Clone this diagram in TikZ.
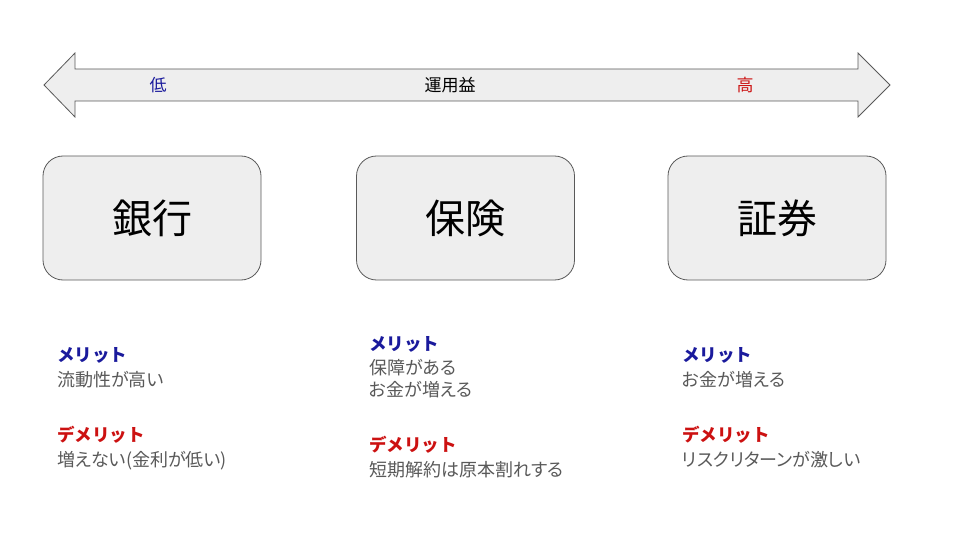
\documentclass[tikz,border=0pt]{standalone}
\usepackage{fontspec}
\setmainfont{Noto Sans CJK JP}
\newfontfamily\jpp{Noto Sans CJK JP}[RawFeature=+palt]
\definecolor{boxfill}{HTML}{EEEEEE}
\definecolor{boxline}{HTML}{595959}
\definecolor{mblue}{HTML}{1A1A9C}
\definecolor{mred}{HTML}{CC1111}
\definecolor{bodyg}{HTML}{595959}
\begin{document}
\begin{tikzpicture}[x=1pt,y=-1pt,
  catbox/.style={draw=boxline,fill=boxfill,rounded corners=20pt,line width=0.8pt,minimum width=218pt,minimum height=124pt,font=\fontsize{40}{42}\selectfont,inner sep=0pt},
  headm/.style={anchor=west,inner sep=0pt,text=mblue,font=\fontsize{17.5}{20}\selectfont\bfseries},
  headd/.style={anchor=west,inner sep=0pt,text=mred,font=\fontsize{17.5}{20}\selectfont\bfseries},
  bodyt/.style={anchor=west,inner sep=0pt,text=bodyg,font=\jpp\fontsize{18}{22}\selectfont,align=left},
  arrlab/.style={inner sep=0pt,font=\fontsize{17}{18}\selectfont}]
\useasboundingbox (0,0) rectangle (960,540);
% double arrow
\draw[draw=boxline,fill=boxfill,line width=0.8pt,line join=miter]
  (44,85) -- (75,53) -- (75,69) -- (858,69) -- (858,53) -- (890,85)
  -- (858,117) -- (858,101) -- (75,101) -- (75,117) -- cycle;
\node[arrlab,text=mblue] (low) at (158,85) {低};
\node[arrlab,text=black] (gain) at (450,85) {運用益};
\node[arrlab,text=mred] (high) at (745,85) {高};
% boxes
\node[catbox] (bank) at (152,218) {銀行};
\node[catbox] (ins) at (465.5,218) {保険};
\node[catbox] (sec) at (777,218) {証券};
% left
\node[headm] (m1) at (57,355) {メリット};
\node[bodyt] (b1) at (57,380) {流動性が高い};
\node[headd] (d1) at (57,435) {デメリット};
\node[bodyt] (e1) at (57,461) {増えない(金利が低い)};
% middle
\node[headm] (m2) at (369,344) {メリット};
\node[bodyt] (b2) at (369,379) {保障がある\\お金が増える};
\node[headd] (d2) at (369,445) {デメリット};
\node[bodyt] (e2) at (369,470) {短期解約は原本割れする};
% right
\node[headm] (m3) at (682,355) {メリット};
\node[bodyt] (b3) at (682,380) {お金が増える};
\node[headd] (d3) at (682,435) {デメリット};
\node[bodyt] (e3) at (682,460) {リスクリターンが激しい};
\end{tikzpicture}
\end{document}
